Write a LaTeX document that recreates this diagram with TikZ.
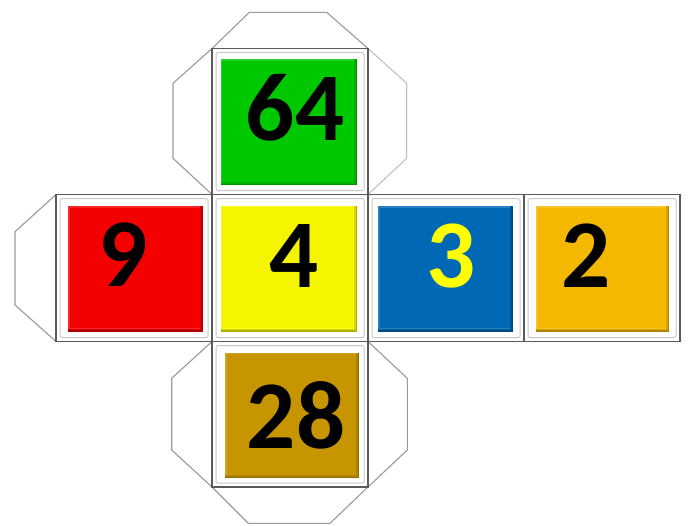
\documentclass[tikz,border=0pt]{standalone}
\usepackage{fontspec}
\setmainfont{Carlito}
\definecolor{cgreen}{HTML}{00C800}
\definecolor{cred}{HTML}{F50000}
\definecolor{cyellow}{HTML}{F5F500}
\definecolor{cblue}{HTML}{0068B4}
\definecolor{corange}{HTML}{F5B800}
\definecolor{cgold}{HTML}{C79500}
\definecolor{digyellow}{HTML}{FFFF00}
\definecolor{edgegray}{HTML}{5A5A5A}
\definecolor{framegray}{HTML}{C8C8C8}
\definecolor{flapgray}{HTML}{9A9A9A}
\definecolor{flaplight}{HTML}{BDBDBD}
\begin{document}
\begin{tikzpicture}[x=1pt,y=-1pt,
  flap/.style={draw=flapgray,line width=1.1pt,fill=white,line join=round},
  flaplt/.style={draw=flaplight,line width=1pt,fill=white,line join=round},
  facefr/.style={draw=framegray,line width=1pt},
  edge/.style={draw=edgegray,line width=1.4pt},
  digit/.style={inner sep=0pt,font=\fontsize{97}{97}\selectfont\bfseries}
]
\useasboundingbox[fill=white] (0,0) rectangle (691,525);
% flaps
\draw[flap] (212,48.5) -- (249.3,12.3) -- (326.7,12.3) -- (368,48.5);
\draw[flap] (212,48.5) -- (173,83.3) -- (173,158.3) -- (212,194.5);
\draw[flaplt] (368,48.5) -- (406.7,83.3) -- (406.7,158.3) -- (368,194.5);
\draw[flap] (56,194.5) -- (15,231.7) -- (15,305) -- (56,341.5);
\draw[flap] (212,341.5) -- (171.7,378.3) -- (171.7,450) -- (212,487);
\draw[flap] (368,341.5) -- (407.3,378.3) -- (407.3,450) -- (368,487);
\draw[flap] (212,487) -- (248.3,523.3) -- (330,523.3) -- (368,487);
% inner frames
\foreach \a/\b/\c/\d in {212/48.5/368/194.5, 56/194.5/212/341.5, 212/194.5/368/341.5, 368/194.5/524/341.5, 524/194.5/680/341.5, 212/341.5/368/487}{
  \draw[facefr,rounded corners=1.5pt] (\a+4,\b+4) rectangle (\c-4,\d-4);
}
% colored squares with bevel
\newcommand{\bevelsq}[5]{%
  \fill[#5!72!black] (#1,#2) rectangle (#3,#4);
  \fill[#5!88!black] (#1,#2) rectangle (#3-1.5,#4-1.5);
  \fill[#5!85!white] (#1,#2) rectangle (#3-3,#4-3);
  \fill[#5] (#1+1.5,#2+1.5) rectangle (#3-3,#4-3.5);
}
\bevelsq{220.7}{59.3}{357.3}{185}{cgreen}
\bevelsq{68.3}{206}{203.3}{331.7}{cred}
\bevelsq{220.7}{205.7}{357.3}{331.7}{cyellow}
\bevelsq{378.3}{206}{512.7}{331.7}{cblue}
\bevelsq{536}{206}{669.3}{331.7}{corange}
\bevelsq{225}{352.7}{359.3}{478.3}{cgold}
% face edges
\draw[edge] (212,48.5) rectangle (368,487);
\draw[edge] (56,194.5) rectangle (680,341.5);
\draw[edge] (212,194.5) -- (212,341.5) (368,194.5) -- (368,341.5) (524,194.5) -- (524,341.5);
% digits
\node[digit] (n64) at (295,107.5) {64};
\node[digit] (n9) at (123.3,255) {9};
\node[digit] (n4) at (294,256) {4};
\node[digit,text=digyellow] (n3) at (451,256) {3};
\node[digit] (n2) at (586,256) {2};
\node[digit] (n28) at (296,415) {28};
\end{tikzpicture}
\end{document}
